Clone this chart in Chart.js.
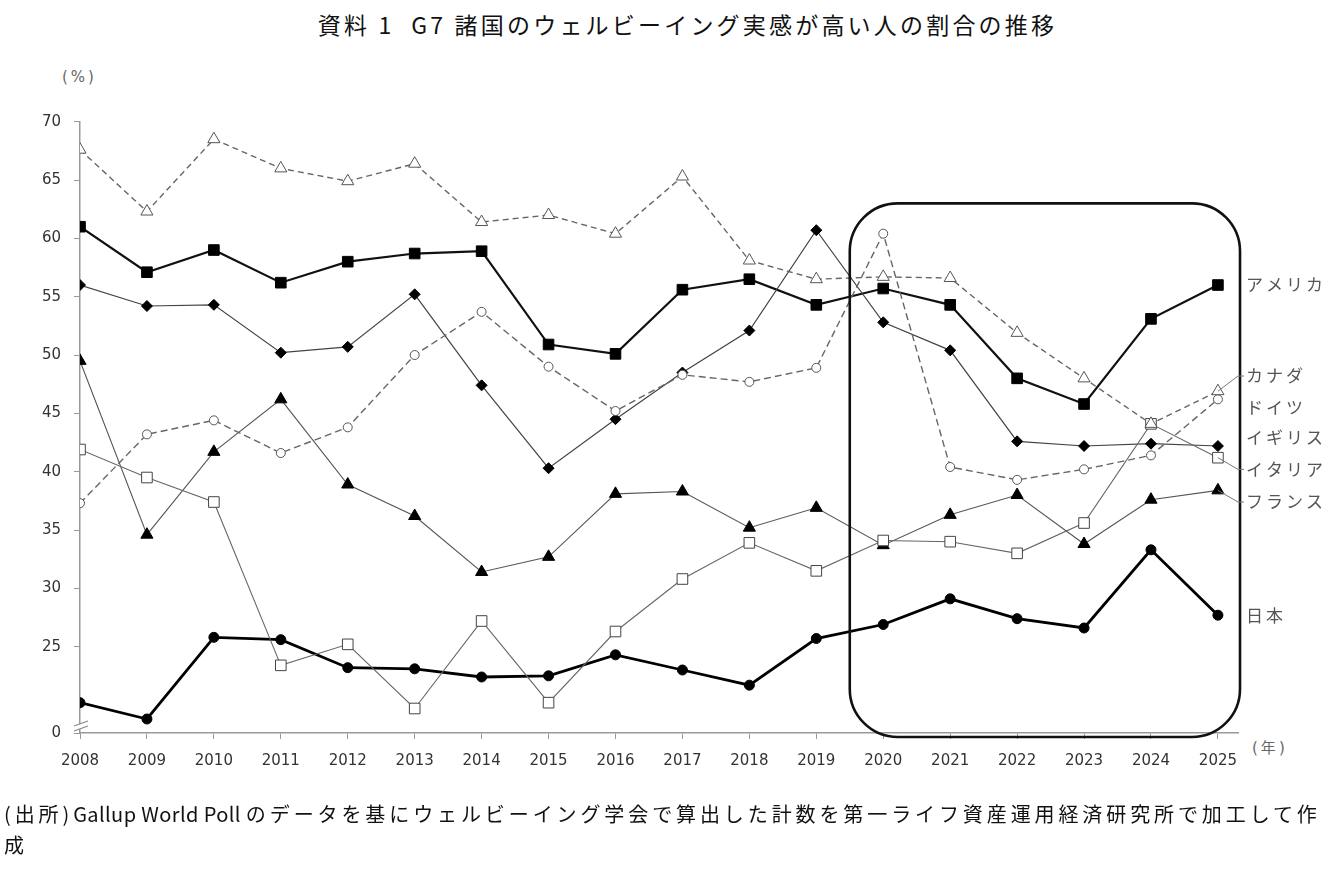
<!DOCTYPE html>
<html lang="ja">
<head>
<meta charset="utf-8">
<script src="https://cdn.jsdelivr.net/npm/chart.js@4.4.1/dist/chart.umd.min.js"></script>
<style>
  html, body { margin: 0; padding: 0; background: #fff; }
  body { width: 1339px; height: 875px; position: relative; overflow: hidden; font-family: "Noto Sans CJK JP", sans-serif; }
  #chart { position: absolute; left: 0; top: 0; }
  .title { position: absolute; left: 18px; width: 1339px; top: 7px; text-align: center; font-size: 23px; letter-spacing: 3.2px; color: #111; white-space: pre; }
  .unit { position: absolute; font-size: 15px; letter-spacing: 3px; color: #666; font-family: "DejaVu Sans", sans-serif; }
  .note { position: absolute; left: 4px; top: 798px; font-size: 20px; line-height: 31px; letter-spacing: 3.9px; color: #111; white-space: nowrap; }
  .note .en { letter-spacing: 0.4px; }
</style>
</head>
<body>
<div class="title">資料 1  G7 諸国のウェルビーイング実感が高い人の割合の推移</div>
<div class="unit" style="left:62px; top:68px;">(%)</div>
<div class="unit" style="left:1252px; top:736px;">(<span style="font-family:'Noto Sans CJK JP'">年</span>)</div>
<canvas id="chart" width="1339" height="875"></canvas>
<div class="note">(出所)<span class="en">Gallup World Poll </span>のデータを基にウェルビーイング学会で算出した計数を第一ライフ資産運用経済研究所で加工して作<br>成</div>
<script>
// values (percent)
const years = [2008, 2009, 2010, 2011, 2012, 2013, 2014, 2015, 2016, 2017, 2018, 2019, 2020, 2021, 2022, 2023, 2024, 2025];
const canada  = [67.6, 62.3, 68.5, 66.0, 64.9, 66.4, 61.4, 62.0, 60.4, 65.3, 58.1, 56.5, 56.7, 56.6, 51.9, 48.0, 44.1, 46.9];
const usa     = [61.0, 57.1, 59.0, 56.2, 58.0, 58.7, 58.9, 50.9, 50.1, 55.6, 56.5, 54.3, 55.7, 54.3, 48.0, 45.8, 53.1, 56.0];
const uk      = [56.0, 54.2, 54.3, 50.2, 50.7, 55.2, 47.4, 40.3, 44.5, 48.5, 52.1, 60.7, 52.8, 50.4, 42.6, 42.2, 42.4, 42.2];
const germany = [37.3, 43.2, 44.4, 41.6, 43.8, 50.0, 53.7, 49.0, 45.2, 48.3, 47.7, 48.9, 60.4, 40.4, 39.3, 40.2, 41.4, 46.2];
const france  = [49.5, 34.6, 41.7, 46.2, 38.9, 36.2, 31.4, 32.7, 38.1, 38.3, 35.2, 36.9, 33.7, 36.3, 38.0, 33.8, 37.6, 38.4];
const italy   = [41.9, 39.5, 37.4, 23.4, 25.2, 19.7, 27.2, 20.2, 26.3, 30.8, 33.9, 31.5, 34.1, 34.0, 33.0, 35.6, 44.1, 41.2];
const japan   = [20.2, 18.8, 25.8, 25.6, 23.2, 23.1, 22.4, 22.5, 24.3, 23.0, 21.7, 25.7, 26.9, 29.1, 27.4, 26.6, 33.3, 27.7];

// broken axis: bottom tick stands for 0, the rest are real values
const yBottom = 17.6;
const yTicks = [yBottom, 25, 30, 35, 40, 45, 50, 55, 60, 65, 70];

// end-of-line labels: [text, label height (in axis units), series end value or null for no leader]
const endLabels = [
  ["アメリカ", 56.0, null],
  ["カナダ", 48.2, canada[canada.length - 1]],
  ["ドイツ", 45.5, null],
  ["イギリス", 42.9, null],
  ["イタリア", 40.2, italy[italy.length - 1]],
  ["フランス", 37.4, france[france.length - 1]],
  ["日本", 27.7, null]
];

const pts = arr => arr.map((v, i) => ({ x: years[i], y: v }));
const tickFont = { family: "DejaVu Sans", size: 15 };

const decorations = {
  id: "decorations",
  afterDatasetsDraw(chart) {
    const { ctx, chartArea: a, scales: { x, y } } = chart;
    ctx.save();
    // highlight box round 2020-2025
    const left = x.getPixelForValue(2019.5), right = x.getPixelForValue(2025.33);
    const top = y.getPixelForValue(63.0), bottom = a.bottom + 4;
    ctx.beginPath();
    ctx.roundRect(left, top, right - left, bottom - top, 48);
    ctx.lineWidth = 2.6; ctx.strokeStyle = "#111"; ctx.stroke();

    // axis break marks near the 0 tick
    ctx.fillStyle = "#fff";
    ctx.beginPath();
    ctx.moveTo(a.left - 6, a.bottom - 7); ctx.lineTo(a.left + 8, a.bottom - 12);
    ctx.lineTo(a.left + 8, a.bottom - 7); ctx.lineTo(a.left - 6, a.bottom - 2);
    ctx.closePath(); ctx.fill();
    ctx.strokeStyle = "#888"; ctx.lineWidth = 1.2;
    ctx.beginPath();
    ctx.moveTo(a.left - 6, a.bottom - 7); ctx.lineTo(a.left + 8, a.bottom - 12);
    ctx.moveTo(a.left - 6, a.bottom - 2); ctx.lineTo(a.left + 8, a.bottom - 7);
    ctx.stroke();

    // labels and leader lines
    const lx = right + 4;
    ctx.font = '17px "Noto Sans CJK JP"';
    ctx.letterSpacing = "3px";
    ctx.fillStyle = "#555"; ctx.textBaseline = "middle"; ctx.textAlign = "left";
    ctx.strokeStyle = "#777"; ctx.lineWidth = 1;
    const px = x.getPixelForValue(years[years.length - 1]);
    endLabels.forEach(([txt, pos, endVal]) => {
      const ly = y.getPixelForValue(pos);
      if (endVal !== null) {
        ctx.beginPath();
        ctx.moveTo(px, y.getPixelForValue(endVal));
        ctx.lineTo(right - 2, ly);
        ctx.lineTo(lx, ly);
        ctx.stroke();
      }
      ctx.fillText(txt, lx + 2, ly);
    });
    ctx.restore();
  }
};

new Chart(document.getElementById("chart"), {
  type: "line",
  data: {
    datasets: [
      { label: "カナダ", data: pts(canada), borderColor: "#666", borderWidth: 1.4, borderDash: [6, 4],
        pointStyle: "triangle", pointRadius: 7, pointBackgroundColor: "#fff", pointBorderColor: "#555", pointBorderWidth: 1 },
      { label: "ドイツ", data: pts(germany), borderColor: "#666", borderWidth: 1.4, borderDash: [7, 4],
        pointStyle: "circle", pointRadius: 4.5, pointBackgroundColor: "#fff", pointBorderColor: "#555", pointBorderWidth: 1 },
      { label: "イタリア", data: pts(italy), borderColor: "#666", borderWidth: 1.1,
        pointStyle: "rect", pointRadius: 7.5, pointBackgroundColor: "#fff", pointBorderColor: "#444", pointBorderWidth: 1 },
      { label: "フランス", data: pts(france), borderColor: "#555", borderWidth: 1.1,
        pointStyle: "triangle", pointRadius: 7, pointBackgroundColor: "#000", pointBorderColor: "#000", pointBorderWidth: 1 },
      { label: "イギリス", data: pts(uk), borderColor: "#444", borderWidth: 1.2,
        pointStyle: "rectRot", pointRadius: 5.5, pointBackgroundColor: "#000", pointBorderColor: "#000", pointBorderWidth: 1 },
      { label: "アメリカ", data: pts(usa), borderColor: "#111", borderWidth: 2.2,
        pointStyle: "rect", pointRadius: 7.5, pointBackgroundColor: "#000", pointBorderColor: "#000", pointBorderWidth: 1 },
      { label: "日本", data: pts(japan), borderColor: "#000", borderWidth: 2.8,
        pointStyle: "circle", pointRadius: 5, pointBackgroundColor: "#000", pointBorderColor: "#000", pointBorderWidth: 1 }
    ]
  },
  options: {
    responsive: false,
    animation: false,
    layout: { padding: { left: 0, top: 121.7, right: 101, bottom: 97 } },
    plugins: { legend: { display: false }, tooltip: { enabled: false } },
    elements: { line: { tension: 0 } },
    scales: {
      x: {
        type: "linear", min: years[0], max: 2025.3,
        afterBuildTicks: s => { s.ticks = years.map(v => ({ value: v })); },
        afterFit: s => { s.height = 45; },
        ticks: { callback: v => String(v), font: tickFont, color: "#333", padding: 13, autoSkip: false, maxRotation: 0 },
        grid: { drawOnChartArea: false, tickLength: 6, color: "#999" },
        border: { color: "#999", width: 1.5 }
      },
      y: {
        min: yBottom, max: 70,
        afterBuildTicks: s => { s.ticks = yTicks.map(v => ({ value: v })); },
        afterFit: s => { s.width = 80; },
        ticks: { callback: v => (v < 25 ? "0" : String(v)), font: tickFont, color: "#333", padding: 13 },
        grid: { drawOnChartArea: false, tickLength: 6, color: "#999" },
        border: { color: "#999", width: 1.5 }
      }
    }
  },
  plugins: [decorations]
});
</script>
</body>
</html>
